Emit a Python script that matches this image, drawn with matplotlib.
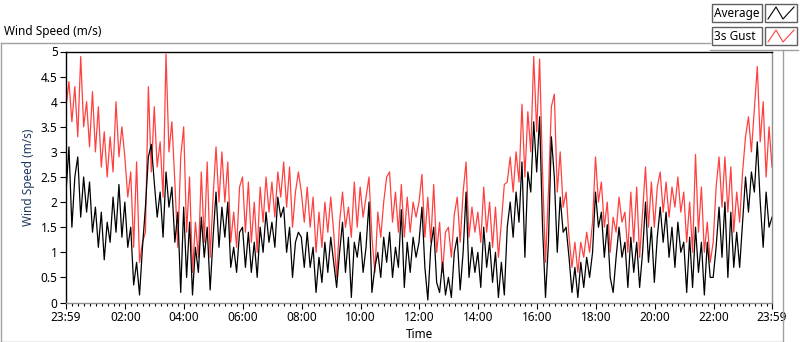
import numpy as np
import matplotlib.pyplot as plt
from matplotlib.lines import Line2D
from matplotlib.patches import Rectangle

plt.rcParams['font.family'] = ['Noto Sans', 'DejaVu Sans']

# 6-minute samples, starting 23:59 (hour blocks of 10)
gust = [
    3.9, 4.4, 3.6, 4.3, 3.3, 4.9, 3.5, 4.0, 3.1, 4.2,
    3.0, 3.9, 2.7, 3.4, 2.5, 3.3, 2.6, 4.0, 2.9, 3.5,
    2.9, 2.1, 2.6, 1.1, 2.8, 0.8, 1.2, 1.4, 4.3, 2.6,
    3.9, 2.7, 3.2, 2.1, 4.95, 3.0, 3.6, 2.4, 1.1, 2.9,
    3.5, 1.4, 2.5, 0.6, 1.6, 0.9, 2.6, 1.2, 2.8, 0.9,
    2.1, 3.1, 2.0, 3.0, 2.0, 2.8, 1.2, 1.8, 1.1, 2.3,
    2.5, 1.4, 2.4, 1.2, 2.0, 1.0, 2.3, 1.6, 2.5, 1.8,
    2.4, 1.7, 2.6, 2.1, 2.8, 1.9, 2.7, 1.5, 2.2, 2.6,
    2.2, 1.6, 2.3, 1.5, 2.1, 1.0, 1.8, 1.1, 2.0, 1.4,
    2.1, 1.4, 0.5, 1.6, 2.2, 1.5, 1.9, 1.3, 2.4, 1.5,
    2.3, 1.7, 2.1, 2.5, 1.3, 0.6, 1.8, 1.3, 2.0, 2.5,
    2.6, 1.6, 2.2, 1.4, 2.35, 1.3, 2.1, 1.4, 2.0, 1.7,
    2.0, 2.55, 1.3, 2.1, 1.2, 2.35, 1.0, 1.6, 0.6, 1.4,
    1.5, 0.9, 1.75, 2.1, 1.2, 2.2, 2.8, 1.3, 1.9, 1.4,
    1.8, 1.2, 2.3, 1.4, 2.0, 1.1, 1.9, 0.9, 1.6, 2.35,
    2.4, 2.9, 2.2, 3.0, 2.4, 3.95, 2.5, 3.8, 3.0, 4.9,
    3.4, 4.85, 2.6, 0.8, 2.2, 3.9, 4.15, 2.2, 3.0, 1.9,
    2.2, 1.3, 0.7, 1.2, 0.6, 1.2, 0.9, 1.4, 1.0, 1.6,
    2.9, 2.0, 2.4, 1.5, 2.0, 1.0, 1.7, 1.4, 2.1, 1.6,
    1.8, 1.0, 2.2, 1.2, 2.3, 0.9, 1.8, 2.7, 1.5, 2.4,
    1.5, 2.3, 2.6, 1.8, 2.4, 1.7, 2.3, 1.9, 2.5, 1.8,
    2.2, 1.2, 2.0, 1.0, 2.95, 1.4, 2.3, 1.0, 1.6, 0.8,
    1.2, 2.3, 2.9, 1.9, 2.9, 1.8, 2.7, 1.4, 2.2, 1.6,
    2.6, 3.3, 3.7, 3.0, 3.85, 4.7, 3.2, 4.0, 2.5, 3.5,
    2.7,
]

average = [
    2.2, 3.1, 1.5, 2.5, 2.9, 1.7, 2.5, 1.8, 2.4, 1.4,
    1.9, 1.1, 1.8, 0.85, 1.6, 1.2, 2.1, 1.4, 2.35, 1.3,
    2.0, 1.1, 1.5, 0.35, 0.8, 0.15, 1.1, 1.9, 2.9, 3.15,
    2.4, 1.7, 2.2, 1.3, 2.6, 1.9, 2.3, 1.2, 1.8, 0.2,
    1.9, 0.5, 1.6, 0.15, 1.1, 0.6, 1.7, 0.9, 1.5, 0.25,
    1.3, 2.2, 1.1, 1.9, 1.3, 2.0, 0.7, 1.1, 0.6, 1.4,
    1.5, 0.7, 1.4, 0.6, 1.2, 0.5, 1.5, 1.0, 1.8, 1.2,
    1.6, 1.1, 2.1, 1.7, 1.9, 1.0, 1.5, 0.5, 1.2, 1.4,
    1.3, 0.7, 1.4, 0.7, 1.1, 0.2, 0.9, 0.4, 1.2, 0.6,
    1.3, 0.8, 0.3, 1.0, 1.6, 0.6, 1.3, 0.1, 1.2, 0.9,
    1.4, 0.6, 1.1, 2.0, 0.2, 0.7, 1.0, 0.5, 1.3, 0.8,
    1.4, 0.5, 1.1, 0.7, 1.85, 0.3, 1.2, 0.6, 1.3, 0.9,
    1.2, 1.9, 0.7, 0.05, 1.1, 1.5, 0.4, 0.2, 0.8, 0.15,
    0.5, 0.1, 1.0, 1.3, 0.25, 1.0, 2.2, 0.5, 1.1, 0.6,
    1.0, 0.3, 1.5, 0.7, 1.2, 0.4, 1.0, 0.1, 0.8, 0.15,
    1.5, 2.0, 1.3, 2.2, 1.6, 2.8, 0.9, 2.6, 2.2, 3.6,
    2.6, 3.7, 1.5, 0.1, 1.2, 3.3, 2.5, 1.0, 2.1, 1.4,
    1.5, 0.9, 0.2, 0.7, 0.1, 0.8, 0.3, 0.9, 0.5, 1.0,
    2.2, 1.5, 1.8, 0.9, 1.55, 0.5, 0.2, 0.9, 1.5, 0.9,
    1.2, 0.3, 1.3, 0.6, 1.2, 0.3, 1.0, 2.0, 0.8, 1.5,
    0.4, 1.3, 1.9, 1.2, 1.8, 0.9, 1.5, 0.7, 1.6, 1.0,
    1.2, 0.2, 1.3, 0.3, 1.5, 0.6, 1.2, 0.15, 1.2, 0.5,
    0.5, 1.1, 1.9, 0.9, 2.0, 0.5, 1.8, 0.7, 1.4, 0.7,
    1.6, 2.5, 1.8, 2.6, 2.2, 3.2, 2.0, 1.1, 2.2, 1.5,
    1.7,
]

hours = np.arange(len(gust)) * 0.1   # hours since 23:59
tick_labels = ['23:59', '02:00', '04:00', '06:00', '08:00', '10:00', '12:00',
               '14:00', '16:00', '18:00', '20:00', '22:00', '23:59']
tick_pos = [0] + [h + 1 / 60 for h in range(2, 24, 2)] + [24]

fig = plt.figure(figsize=(8, 3.42), dpi=100)
ax = fig.add_axes([66 / 800, 39.5 / 342, 706 / 800, 251 / 342])

ax.plot(hours, gust, color='#ff4040', lw=0.9)
ax.plot(hours, average, color='black', lw=0.9)

ax.set_xlim(0, 24)
ax.set_ylim(0, 5)
ax.set_yticks(np.arange(0, 5.01, 0.5))
ax.set_yticklabels(['0', '0.5', '1', '1.5', '2', '2.5', '3', '3.5', '4', '4.5', '5'])
ax.set_xticks(tick_pos)
ax.set_xticklabels(tick_labels)
minor = [2 + 1 / 60 + 0.2 * k for k in range(-10, 111)]
minor = [m for m in minor if 0.05 < m < 23.95]
ax.set_xticks(minor, minor=True)
ax.tick_params(axis='both', labelsize=8.5, length=4, width=0.8, pad=2, colors='black')
ax.tick_params(axis='x', which='minor', length=2.5, width=0.8)

for s in ['top', 'left']:
    ax.spines[s].set_color('black')
for s in ['bottom', 'right']:
    ax.spines[s].set_color('#909090')
for s in ax.spines.values():
    s.set_linewidth(1)

ax.set_ylabel('Wind Speed (m/s)', fontsize=8.5, color='#1f3a60', labelpad=4)
ax.set_xlabel('Time', fontsize=8.5, labelpad=3)

# outer frame, chart title and legend
W, H = 800, 342
def fx(x): return x / W
def fy(y): return 1 - y / H

gray = '#a0a0a0'
fig.add_artist(Line2D([fx(0.5), fx(710)], [fy(42.5), fy(42.5)], color=gray, lw=1))
fig.add_artist(Line2D([fx(710), fx(798)], [fy(49.5), fy(49.5)], color=gray, lw=1))
fig.add_artist(Line2D([fx(0.5), fx(0.5)], [fy(42.5), fy(341.5)], color=gray, lw=1))
fig.add_artist(Line2D([fx(0.5), fx(783)], [fy(341.5), fy(341.5)], color=gray, lw=1))
fig.add_artist(Line2D([fx(783), fx(783)], [fy(49.5), fy(341.5)], color=gray, lw=1))
fig.text(fx(4), fy(31), 'Wind Speed (m/s)', fontsize=8.5, va='center', ha='left')

for row, (name, col) in enumerate([('Average', 'black'), ('3s Gust', '#ff4040')]):
    top = 4 + row * 23
    fig.add_artist(Rectangle((fx(712), fy(top + 18)), fx(50), 18 / H,
                             fill=True, facecolor='white', edgecolor='#606060', lw=1))
    fig.text(fx(714), fy(top + 9), name, fontsize=8.5, va='center', ha='left')
    fig.add_artist(Rectangle((fx(765), fy(top + 18)), fx(32), 18 / H,
                             fill=True, facecolor='white', edgecolor='#606060', lw=1))
    zx = [768, 776, 783, 794]
    zy = [top + 15, top + 3, top + 15, top + 3]
    fig.add_artist(Line2D([fx(v) for v in zx], [fy(v) for v in zy], color=col, lw=0.8))

fig.savefig('out.png', dpi=100)
